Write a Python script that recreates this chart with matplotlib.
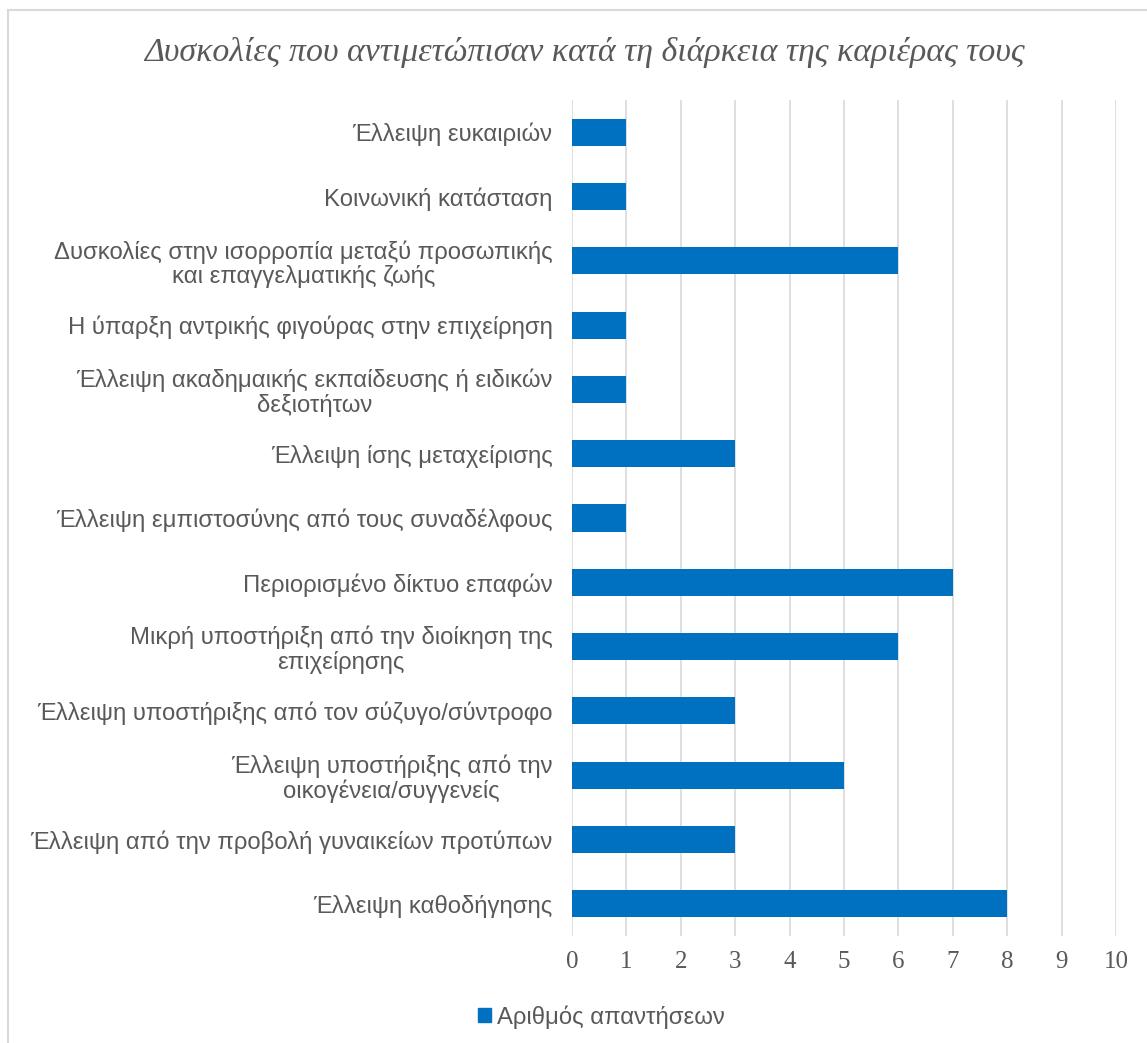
import numpy as np
import matplotlib.pyplot as plt
from matplotlib.lines import Line2D
from matplotlib.patches import Patch

# data (top to bottom as in the chart)
categories = [
    "Έλλειψη ευκαιριών",
    "Κοινωνική κατάσταση",
    "Δυσκολίες στην ισορροπία μεταξύ προσωπικής\nκαι επαγγελματικής ζωής",
    "Η ύπαρξη αντρικής φιγούρας στην επιχείρηση",
    "Έλλειψη ακαδημαικής εκπαίδευσης ή ειδικών\nδεξιοτήτων",
    "Έλλειψη ίσης μεταχείρισης",
    "Έλλειψη εμπιστοσύνης από τους συναδέλφους",
    "Περιορισμένο δίκτυο επαφών",
    "Μικρή υποστήριξη από την διοίκηση της\nεπιχείρησης",
    "Έλλειψη υποστήριξης από τον σύζυγο/σύντροφο",
    "Έλλειψη υποστήριξης από την\nοικογένεια/συγγενείς",
    "Έλλειψη από την προβολή γυναικείων προτύπων",
    "Έλλειψη καθοδήγησης",
]
responses = [1, 1, 6, 1, 1, 3, 1, 7, 6, 3, 5, 3, 8]
series_name = "Αριθμός απαντήσεων"
title = "Δυσκολίες που αντιμετώπισαν κατά τη διάρκεια της καριέρας τους"
xticks = list(range(0, 11))

blue = "#0070C0"
grey_txt = "#595959"
grid_col = "#D9D9D9"

W, H = 1147, 1043
fig = plt.figure(figsize=(W / 100, H / 100), dpi=100)

# outer chart frame (cut at right and bottom)
fig.add_artist(Line2D([8 / W, 1], [1 - 10 / H, 1 - 10 / H], color=grid_col, lw=1.5))
fig.add_artist(Line2D([8 / W, 8 / W], [0, 1 - 10 / H], color=grid_col, lw=1.5))

ax = fig.add_axes([572 / W, 1 - 936 / H, (1116 - 572) / W, (936 - 100) / H])

y = np.arange(len(categories))
ax.barh(y, responses, height=0.42, color=blue, zorder=3)

ax.set_xlim(0, 10)
ax.set_ylim(len(categories) - 0.5, -0.5)
ax.set_xticks(xticks)
ax.set_xticklabels([str(t) for t in xticks], fontfamily="Liberation Serif",
                   fontsize=18, color=grey_txt)
ax.set_yticks(y)
ax.set_yticklabels(categories, fontfamily="Liberation Sans", fontsize=17.2,
                   color=grey_txt, multialignment="center", linespacing=1.1)
ax.tick_params(axis="y", length=0, pad=14)
ax.tick_params(axis="x", length=0, pad=11)
ax.grid(axis="x", color=grid_col, lw=1.2, zorder=0)
for s in ax.spines.values():
    s.set_visible(False)

fig.text(584 / W, 1 - 53 / H, title, ha="center", va="center",
         fontfamily="Liberation Serif", style="italic", fontsize=24.4, color=grey_txt)

fig.legend(handles=[Patch(color=blue, label=series_name)], loc="center",
           bbox_to_anchor=(601 / W, 1 - 1017 / H), frameon=False,
           prop={"family": "Liberation Sans", "size": 17.2}, labelcolor=grey_txt,
           handlelength=0.55, handleheight=0.55, handletextpad=0.25)

fig.savefig("out.png", dpi=100)
